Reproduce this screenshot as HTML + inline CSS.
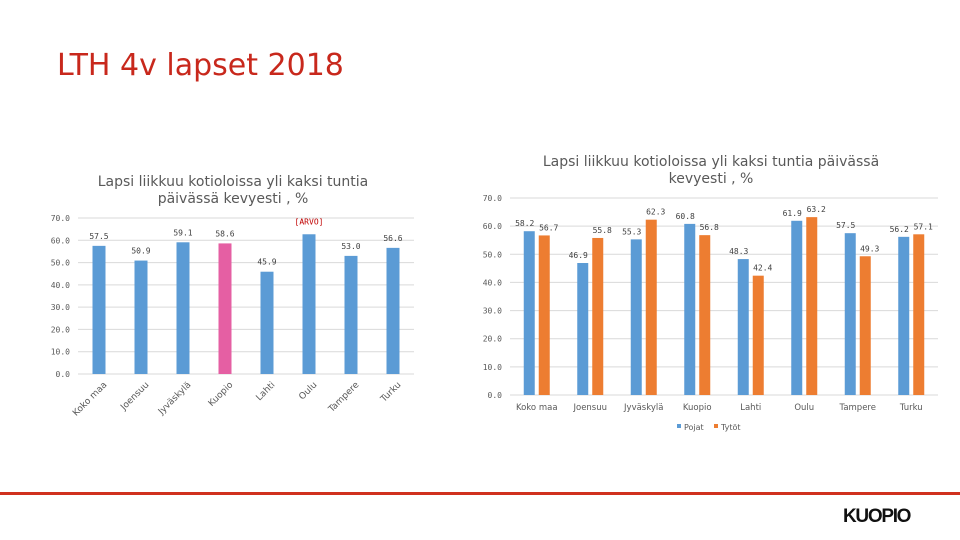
<!DOCTYPE html>
<html><head><meta charset="utf-8"><style>
body{margin:0;background:#fff;}
#wrap{position:relative;width:960px;height:540px;overflow:hidden;font-family:"DejaVu Sans","Liberation Sans",sans-serif;}
</style></head><body>
<div id="wrap">
<div style="position:absolute;left:57px;top:48px;font-size:30px;color:#c8281c;">LTH 4v lapset 2018</div>
<svg id="svg" width="960" height="540" style="position:absolute;left:0;top:0">
<text x="233" y="186" text-anchor="middle" font-size="14" fill="#595959">Lapsi liikkuu kotioloissa yli kaksi tuntia</text>
<text x="233" y="203" text-anchor="middle" font-size="14" fill="#595959">päivässä kevyesti , %</text>
<text x="711" y="166" text-anchor="middle" font-size="14" fill="#595959">Lapsi liikkuu kotioloissa yli kaksi tuntia päivässä</text>
<text x="711" y="183" text-anchor="middle" font-size="14" fill="#595959">kevyesti , %</text>
<rect x="0" y="492" width="960" height="3" fill="#d0311e"/>
<text x="843" y="522" font-size="19" font-weight="bold" fill="#111" font-family="Liberation Sans, sans-serif" letter-spacing="-1.3">KUOPIO</text>
<g id="left"></g><g id="right"></g>
</svg>
</div>
<script>
const categories=["Koko maa","Joensuu","Jyväskylä","Kuopio","Lahti","Oulu","Tampere","Turku"];
const leftValues=[57.5,50.9,59.1,58.6,45.9,62.7,53.0,56.6];
const leftLabels=["57.5","50.9","59.1","58.6","45.9","[ARVO]","53.0","56.6"];
const boysValues=[58.2,46.9,55.3,60.8,48.3,61.9,57.5,56.2];
const girlsValues=[56.7,55.8,62.3,56.8,42.4,63.2,49.3,57.1];
const yTicks=[0,10,20,30,40,50,60,70];
const NS="http://www.w3.org/2000/svg";
function mk(p,t,a,txt){const e=document.createElementNS(NS,t);for(const k in a)e.setAttribute(k,a[k]);if(txt!==undefined)e.textContent=txt;p.appendChild(e);return e;}
// left chart
const L=document.getElementById('left');
const lx0=78,lx1=414,ly0=374,ly1=218;
const ly=v=>ly0-(v/70)*(ly0-ly1);
const lbw=(lx1-lx0)/categories.length;
const lcx=i=>lx0+lbw*(i+0.5);
yTicks.forEach(t=>{
 let g=mk(L,'line',{x1:lx0,x2:lx1,y1:ly(t),y2:ly(t),stroke:'#d9d9d9','stroke-width':1});
 
 let tx=mk(L,'text',{x:70,y:ly(t)+3,'text-anchor':'end','font-size':8,fill:'#595959','font-family':'DejaVu Sans Mono, monospace'},t.toFixed(1));
 
});
categories.forEach((c,i)=>{
 const v=leftValues[i];
 let r=mk(L,'rect',{x:lcx(i)-6.5,y:ly(v),width:13,height:ly0-ly(v),fill:i===3?'#e55fa3':'#5b9bd5'});
 
 let lb=mk(L,'text',{x:lcx(i),y:ly(v)-7,'text-anchor':'middle','font-size':8,fill:i===5?'#c00000':'#404040','font-family':'DejaVu Sans Mono, monospace'},leftLabels[i]);
 if(i===5)lb.setAttribute('y',ly(v)-10);
 
 const x=lcx(i)+4,y=ly0+7;
 let cl=mk(L,'text',{x:x,y:y,'text-anchor':'end','font-size':9,fill:'#595959',transform:`rotate(-45 ${x} ${y})`},c);
 cl.setAttribute('dy','6');
 
});
// right chart
const R=document.getElementById('right');
const rx0=510,rx1=938,ry0=395,ry1=198;
const ry=v=>ry0-(v/70)*(ry0-ry1);
const rbw=(rx1-rx0)/categories.length;
const rcx=i=>rx0+rbw*(i+0.5);
yTicks.forEach(t=>{
 let g=mk(R,'line',{x1:rx0,x2:rx1,y1:ry(t),y2:ry(t),stroke:'#d9d9d9','stroke-width':1});
 
 let tx=mk(R,'text',{x:502,y:ry(t)+3,'text-anchor':'end','font-size':8,fill:'#595959','font-family':'DejaVu Sans Mono, monospace'},t.toFixed(1));
 
});
categories.forEach((c,i)=>{
 const b=boysValues[i],g=girlsValues[i];
 let r1=mk(R,'rect',{x:rcx(i)-13,y:ry(b),width:11,height:ry0-ry(b),fill:'#5b9bd5'});
 
 let r2=mk(R,'rect',{x:rcx(i)+2,y:ry(g),width:11,height:ry0-ry(g),fill:'#ed7d31'});
 
 let l1=mk(R,'text',{x:rcx(i)-12,y:ry(b)-5,'text-anchor':'middle','font-size':8,fill:'#404040','font-family':'DejaVu Sans Mono, monospace'},b.toFixed(1));
 
 let l2=mk(R,'text',{x:rcx(i)+12,y:ry(g)-5,'text-anchor':'middle','font-size':8,fill:'#404040','font-family':'DejaVu Sans Mono, monospace'},g.toFixed(1));
 
 let cl=mk(R,'text',{x:rcx(i),y:410,'text-anchor':'middle','font-size':8.5,fill:'#595959'},c);
 
});
let lg1=mk(R,'rect',{x:677,y:424,width:4,height:4,fill:'#5b9bd5'});

let lt1=mk(R,'text',{x:684,y:430,'font-size':8,fill:'#595959'},'Pojat');

let lg2=mk(R,'rect',{x:714,y:424,width:4,height:4,fill:'#ed7d31'});

let lt2=mk(R,'text',{x:721,y:430,'font-size':8,fill:'#595959'},'Tytöt');

</script>
</body></html>
